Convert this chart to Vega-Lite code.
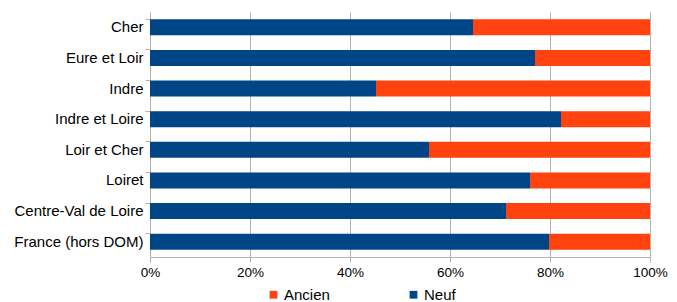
{
  "$schema": "https://vega.github.io/schema/vega-lite/v6.json",
  "autosize": {"type": "none"},
  "padding": {"left": 150, "top": 12, "right": 27, "bottom": 45},
  "width": 500,
  "height": 245,
  "background": "white",
  "config": {
    "font": "Liberation Sans",
    "view": {"stroke": null}
  },
  "data": {
    "values": [
      {"zone": "Cher", "type": "Neuf", "share": 0.646, "rank": 0},
      {"zone": "Cher", "type": "Ancien", "share": 0.354, "rank": 1},
      {"zone": "Eure et Loir", "type": "Neuf", "share": 0.770, "rank": 0},
      {"zone": "Eure et Loir", "type": "Ancien", "share": 0.230, "rank": 1},
      {"zone": "Indre", "type": "Neuf", "share": 0.452, "rank": 0},
      {"zone": "Indre", "type": "Ancien", "share": 0.548, "rank": 1},
      {"zone": "Indre et Loire", "type": "Neuf", "share": 0.822, "rank": 0},
      {"zone": "Indre et Loire", "type": "Ancien", "share": 0.178, "rank": 1},
      {"zone": "Loir et Cher", "type": "Neuf", "share": 0.558, "rank": 0},
      {"zone": "Loir et Cher", "type": "Ancien", "share": 0.442, "rank": 1},
      {"zone": "Loiret", "type": "Neuf", "share": 0.760, "rank": 0},
      {"zone": "Loiret", "type": "Ancien", "share": 0.240, "rank": 1},
      {"zone": "Centre-Val de Loire", "type": "Neuf", "share": 0.712, "rank": 0},
      {"zone": "Centre-Val de Loire", "type": "Ancien", "share": 0.288, "rank": 1},
      {"zone": "France (hors DOM)", "type": "Neuf", "share": 0.798, "rank": 0},
      {"zone": "France (hors DOM)", "type": "Ancien", "share": 0.202, "rank": 1}
    ]
  },
  "mark": {"type": "bar"},
  "encoding": {
    "y": {
      "field": "zone",
      "type": "nominal",
      "sort": null,
      "title": null,
      "scale": {"paddingInner": 0.48, "paddingOuter": 0.24},
      "axis": {
        "bandPosition": 0,
        "tickSize": 5,
        "tickColor": "#b3b3b3",
        "domainColor": "#b3b3b3",
        "labelFontSize": 15,
        "labelColor": "#000000",
        "labelPadding": 2,
        "grid": false
      }
    },
    "x": {
      "field": "share",
      "type": "quantitative",
      "stack": "zero",
      "title": null,
      "scale": {"domain": [0, 1], "nice": false},
      "axis": {
        "format": ".0%",
        "values": [0, 0.2, 0.4, 0.6, 0.8, 1],
        "grid": true,
        "gridColor": "#b3b3b3",
        "tickColor": "#b3b3b3",
        "domainColor": "#b3b3b3",
        "tickSize": 5,
        "labelFontSize": 13.5,
        "labelColor": "#000000",
        "labelPadding": 3,
        "labelFlush": false,
        "labelOverlap": false
      }
    },
    "color": {
      "field": "type",
      "type": "nominal",
      "scale": {"domain": ["Ancien", "Neuf"], "range": ["#ff420e", "#004586"]},
      "legend": {
        "title": null,
        "orient": "none",
        "direction": "horizontal",
        "legendX": 116,
        "legendY": 275,
        "symbolType": "square",
        "symbolSize": 60,
        "symbolStrokeWidth": 0,
        "labelFontSize": 15,
        "labelColor": "#000000",
        "labelOffset": 3,
        "columnPadding": 76
      }
    },
    "order": {"field": "rank", "type": "quantitative"}
  }
}
